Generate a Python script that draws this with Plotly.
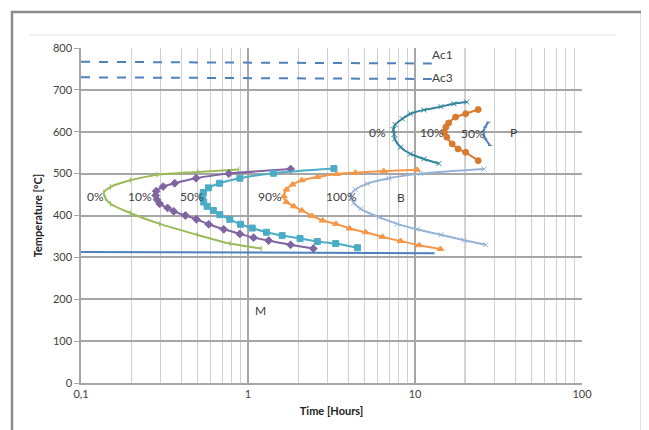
import numpy as np
import plotly.graph_objects as go

# ---------------- data ----------------
# Bainite C-curves (time in hours, temperature in °C)
b0_t = [0.88, 0.5, 0.285, 0.197, 0.15, 0.137, 0.14, 0.15, 0.197, 0.296, 0.496, 0.78, 1.2]
b0_T = [510, 504, 497, 484, 468, 455, 442, 428, 406, 380, 354, 333, 321]

b10_t = [1.80, 0.767, 0.489, 0.364, 0.31, 0.282, 0.28, 0.285, 0.296, 0.33, 0.359, 0.422, 0.491,
         0.582, 0.716, 0.893, 1.08, 1.33, 1.80, 2.46]
b10_T = [511, 500, 489, 477, 469, 458, 448, 438, 428, 418, 410, 400, 391,
         379, 367, 356, 347, 340, 330, 321]

b50_t = [3.27, 1.42, 0.894, 0.676, 0.58, 0.54, 0.535, 0.543, 0.569, 0.62, 0.678, 0.778, 0.902,
         1.06, 1.29, 1.60, 2.05, 2.60, 3.35, 4.52]
b50_T = [512, 501, 489, 477, 466, 455, 445, 432, 422, 412, 402, 391, 379,
         370, 360, 352, 345, 338, 333, 323]

b90_t = [10.3, 6.5, 4.4, 3.4, 2.6, 2.1, 1.85, 1.70, 1.64, 1.70, 1.88, 2.1, 2.42, 2.8, 3.36,
         4.06, 5.07, 6.39, 8.2, 10.6, 14.2]
b90_T = [509, 506, 502, 499, 492, 484, 474, 462, 446, 432, 422, 412, 399, 388, 380,
         369, 360, 349, 339, 329, 320]

b100_t = [25.9, 10.8, 6.98, 5.19, 4.4, 4.12, 4.3, 4.73, 6.08, 7.84, 10.3, 14.3, 19.7, 26.5]
b100_T = [511, 500, 489, 476, 462, 450, 430, 416, 396, 380, 367, 354, 341, 330]

# Pearlite C-curves
p0_t = [20.4, 17.1, 14.3, 11.3, 9.4, 8.4, 7.6, 7.42, 7.5, 7.56, 8.2, 9.4, 11.3, 13.9]
p0_T = [671, 667, 660, 652, 643, 631, 617, 605, 594, 583, 563, 547, 535, 524]

p10_t = [23.9, 20.1, 17.5, 15.9, 15.3, 15.0, 15.5, 16.7, 18.1, 20.1, 23.9]
p10_T = [653, 643, 635, 621, 611, 599, 587, 571, 559, 551, 531]

p50_t = [27.5, 26.3, 25.7, 26.4, 28.2]
p50_T = [623, 611, 599, 583, 567]

# Critical lines
ac1_t = [0.1, 12.6]
ac1_T = [767, 763]
ac3_t = [0.1, 12.6]
ac3_T = [730, 726]
ms_t = [0.1, 13.1]
ms_T = [313, 310]

# Labels (text, time, temperature)
label_text = ["0%", "10%", "50%", "90%", "100%", "B", "0%", "10%", "50%", "P", "M", "Ac1", "Ac3"]
label_t = [0.122, 0.227, 0.463, 1.35, 3.62, 8.2, 5.95, 12.7, 22.3, 38.9, 1.18, 14.6, 14.6]
label_T = [446, 446, 446, 446, 446, 444, 599, 599, 595, 599, 174, 784, 729]

x_tickvals = [0.1, 1, 10, 100]
x_ticktext = ["0,1", "1", "10", "100"]
y_tickvals = [0, 100, 200, 300, 400, 500, 600, 700, 800]

# ---------------- figure ----------------
FONT = "Lato, Carlito, 'Liberation Sans', sans-serif"
fig = go.Figure()


def curve(t, T, color, symbol, size=6, width=2, lw=1):
    fig.add_trace(go.Scatter(
        x=t, y=T, mode="lines+markers", line=dict(color=color, width=width, shape="spline", smoothing=0.8),
        marker=dict(color=color, symbol=symbol, size=size, line=dict(color=color, width=lw)),
        showlegend=False, hoverinfo="skip"))


fig.add_trace(go.Scatter(x=ac1_t, y=ac1_T, mode="lines", line=dict(color="#4f81bd", width=2, dash="dash"),
                         showlegend=False))
fig.add_trace(go.Scatter(x=ac3_t, y=ac3_T, mode="lines", line=dict(color="#4f81bd", width=2, dash="dash"),
                         showlegend=False))
fig.add_trace(go.Scatter(x=ms_t, y=ms_T, mode="lines", line=dict(color="#4f81bd", width=2),
                         showlegend=False))

curve(b0_t, b0_T, "#9bbb59", "line-ns", size=4, lw=1)
curve(b10_t, b10_T, "#8064a2", "diamond", size=6)
curve(b50_t, b50_T, "#4bacc6", "square", size=6)
curve(b90_t, b90_T, "#f79646", "triangle-up", size=6)
curve(b100_t, b100_T, "#95b3d7", "x-thin", size=5, lw=1)
curve(p0_t, p0_T, "#31859c", "x-thin", size=5, lw=1)
curve(p10_t, p10_T, "#d97a2f", "circle", size=6)
curve(p50_t, p50_T, "#4f81bd", "line-ew", size=3, lw=1)

for txt, t, T in zip(label_text, label_t, label_T):
    fig.add_annotation(x=np.log10(t), y=T, text=txt, showarrow=False,
                       font=dict(family=FONT, size=12, color="#404040"))

# darker grid line at 20 h
fig.add_shape(type="line", xref="x", yref="y", x0=20, x1=20, y0=0, y1=800,
              line=dict(color="#a6a6a6", width=1.5), layer="below")

# page is drawn with an 8px body offset -> plot area at px 81..582 x 48..383 in the screenshot
OX, OY = 8, 8
L, T0, PW, PH = 81 - OX, 48 - OY, 501, 335


def px(x):
    return (x - OX - L) / PW


def py(y):
    return (T0 + PH - (y - OY)) / PH


# outer frame and faint band line
fig.add_shape(type="rect", xref="paper", yref="paper", x0=px(12), x1=px(642),
              y0=-0.3, y1=py(12), line=dict(color="#8c8c8c", width=2.5))
fig.add_shape(type="line", xref="paper", yref="paper", x0=px(29), x1=px(616),
              y0=py(35), y1=py(35), line=dict(color="#ececec", width=1.5))

minor_vals = [v * m for m in (0.1, 1, 10) for v in range(2, 10)]

fig.update_xaxes(type="log", range=[-1, 2], tickvals=x_tickvals, ticktext=x_ticktext,
                 showgrid=True, gridcolor="#a6a6a6", gridwidth=1.5,
                 minor=dict(tickvals=minor_vals, showgrid=True, gridcolor="#d0d0d0", gridwidth=1, ticks=""),
                 showline=True, linecolor="#a6a6a6", linewidth=1.5, ticks="",
                 tickfont=dict(family=FONT, size=11, color="#404040"),
                 title=dict(text="<b>Time [Hours]</b>", font=dict(family=FONT, size=11, color="#202020"),
                            standoff=8),
                 zeroline=False, automargin=False)
fig.update_yaxes(range=[0, 800], tickvals=y_tickvals, showgrid=True, gridcolor="#a6a6a6", gridwidth=1.5,
                 showline=True, linecolor="#a6a6a6", linewidth=1.5, ticks="outside", ticklen=5,
                 tickcolor="#a6a6a6",
                 tickfont=dict(family=FONT, size=11, color="#404040"),
                 title=dict(text="<b>Temperature [°C]</b>", font=dict(family=FONT, size=11, color="#202020"),
                            standoff=8),
                 zeroline=False, automargin=False)

fig.update_layout(width=649, height=430, margin=dict(l=L, r=649 - L - PW, t=T0, b=430 - T0 - PH),
                  plot_bgcolor="white", paper_bgcolor="white", showlegend=False)

fig.write_html("out.html")
